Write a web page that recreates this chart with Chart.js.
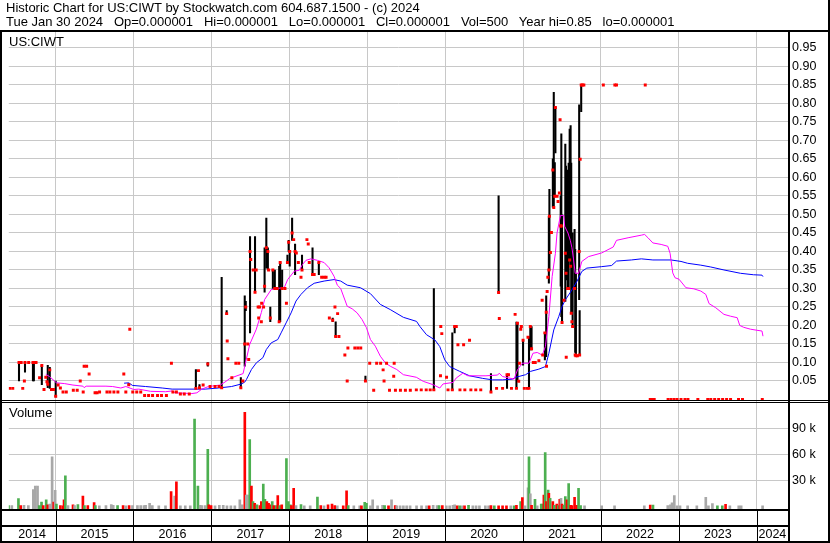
<!DOCTYPE html>
<html>
<head>
<meta charset="utf-8">
<script src="https://cdn.jsdelivr.net/npm/chart.js@4.4.1/dist/chart.umd.min.js"></script>
<style>
  body { margin: 0; background: #fff; }
  #wrap { position: relative; width: 830px; height: 543px; overflow: hidden; font-family: 'Liberation Sans', Arial, sans-serif; color: #000; }
  #chart { position: absolute; left: 0; top: 0; }
  #title { position: absolute; left: 6px; top: 1px; font-size: 13px; line-height: 14px; white-space: pre; }
  .panel-label { position: absolute; left: 9px; font-size: 13px; line-height: 14px; }
</style>
</head>
<body>
<div id="wrap">
  <canvas id="chart" width="830" height="543"></canvas>
  <div id="title">Historic Chart for US:CIWT by Stockwatch.com 604.687.1500 - (c) 2024
Tue Jan 30 2024   Op=0.000001   Hi=0.000001   Lo=0.000001   Cl=0.000001   Vol=500   Year hi=0.85   lo=0.000001</div>
  <div class="panel-label" style="top:35px">US:CIWT</div>
  <div class="panel-label" style="top:406px">Volume</div>
</div>
<script>
// daily prices (date as fractional year); null high/low = no range bar that day
const n = null;
const priceDates = [
  2014.413, 2014.451, 2014.531, 2014.559, 2014.579, 2014.600, 2014.608, 2014.655, 2014.710, 2014.722,
  2014.750, 2014.795, 2014.824, 2014.852, 2014.875, 2014.890, 2014.900, 2014.926, 2014.948, 2014.973,
  2015.002, 2015.033, 2015.062, 2015.096, 2015.138, 2015.228, 2015.278, 2015.317, 2015.355, 2015.367,
  2015.399, 2015.431, 2015.507, 2015.533, 2015.565, 2015.660, 2015.698, 2015.749, 2015.800, 2015.876,
  2015.902, 2015.940, 2015.953, 2015.991,
  2016.042, 2016.093, 2016.143, 2016.194, 2016.245, 2016.309, 2016.360, 2016.423, 2016.487, 2016.506,
  2016.551, 2016.602, 2016.652, 2016.716, 2016.801, 2016.834, 2016.847, 2016.894, 2016.954, 2016.983,
  2017.047, 2017.098, 2017.132, 2017.196, 2017.203, 2017.212, 2017.263, 2017.314, 2017.352, 2017.378,
  2017.403, 2017.428, 2017.441, 2017.467, 2017.479, 2017.496, 2017.505,
  2017.537, 2017.560, 2017.575, 2017.600, 2017.607, 2017.620, 2017.641, 2017.645, 2017.670, 2017.683,
  2017.705, 2017.725, 2017.734, 2017.756, 2017.789, 2017.814, 2017.844, 2017.870, 2017.883, 2017.908,
  2017.944, 2017.963, 2017.976, 2017.992,
  2018.005, 2018.036, 2018.056, 2018.074, 2018.090, 2018.116, 2018.150, 2018.163, 2018.226, 2018.243,
  2018.256, 2018.298, 2018.319, 2018.379, 2018.415, 2018.447, 2018.472, 2018.514, 2018.557, 2018.586,
  2018.595, 2018.620, 2018.637, 2018.713, 2018.743, 2018.752, 2018.841, 2018.879, 2018.917, 2018.977,
  2019.032, 2019.083, 2019.121, 2019.172, 2019.204, 2019.216, 2019.248, 2019.286, 2019.340, 2019.346,
  2019.362, 2019.426, 2019.490, 2019.553, 2019.630, 2019.693, 2019.757, 2019.808, 2019.855, 2019.940,
  2019.944, 2019.957,
  2020.018, 2020.037, 2020.092, 2020.122, 2020.143, 2020.164, 2020.190, 2020.237, 2020.253, 2020.313,
  2020.330, 2020.393, 2020.457, 2020.588, 2020.660, 2020.686, 2020.695, 2020.737, 2020.794, 2020.813,
  2020.851, 2020.898, 2020.915, 2020.928, 2020.944, 2020.953, 2020.970, 2020.978,
  2021.000, 2021.016, 2021.054, 2021.063, 2021.076, 2021.093, 2021.109, 2021.131, 2021.156, 2021.203,
  2021.245, 2021.252, 2021.280, 2021.297, 2021.301, 2021.309, 2021.318, 2021.331, 2021.338, 2021.351,
  2021.364,
  2021.382, 2021.394, 2021.407, 2021.415, 2021.436, 2021.449, 2021.466, 2021.475, 2021.483, 2021.491,
  2021.500, 2021.525, 2021.542, 2021.551, 2021.554, 2021.572, 2021.585, 2021.598, 2021.610, 2021.618,
  2021.627, 2021.636, 2021.661, 2021.669, 2021.678, 2021.697, 2021.720, 2021.726, 2021.733, 2021.746,
  2021.761, 2021.780,
  2022.030, 2022.178, 2022.199, 2022.568, 2022.632, 2022.658, 2022.683, 2022.861, 2022.899, 2022.938,
  2022.976, 2023.027, 2023.078, 2023.116, 2023.243, 2023.370, 2023.409, 2023.459, 2023.510, 2023.561,
  2023.612, 2023.663, 2023.765, 2023.816, 2024.070
];
const highs = [
  n, n, .10, n, n, n, .10, n, .10, .10,
  n, n, .092, n, n, n, .092, .087, n, n,
  .05, n, n, n, n, n, n, n, n, n,
  n, n, n, n, n, n, n, n, n, n,
  n, .043, n, n,
  n, n, n, n, n, n, n, n, n, n,
  n, n, n, n, .081, n, .04, n, .10, n,
  n, n, .33, .24, n, n, n, n, n, .059,
  n, .28, .265, n, n, .44, n,
  n, .44, n, n, n, n, n, n, n, .41,
  .49, .41, n, .25, .35, .35, n, .36, .37, .35,
  n, n, .39, .43,
  .40, .49, n, .42, n, n, n, .39, n, n,
  n, .41, n, .37, n, n, n, n, .22, n,
  .21, n, n, n, n, n, n, n, n, .063,
  n, n, n, n, n, n, n, n, n, n,
  n, n, n, n, n, n, n, n, .30, n,
  n, n,
  n, n, .18, .197, n, n, n, n, n, n,
  n, n, n, .07, n, .55, n, n, .067, n,
  n, n, .209, .206, n, n, n, n,
  .16, n, n, n, .17, .197, .197, n, n, n,
  n, n, .18, .28, n, n, n, .495, .568, n,
  n,
  .65, .83, .64, .789, n, n, n, n, .549, .718,
  .499, n, .69, .631, n, .62, .639, .731, .74, .639,
  n, .45, .46, .406, .34, n, .796, .24, n, .85,
  n, n,
  n, n, n, n, n, n, n, n, n, n,
  n, n, n, n, n, n, n, n, n, n,
  n, n, n, n, n
];
const lows = [
  n, n, .05, n, n, n, .074, n, .05, .05,
  n, n, .04, n, n, n, .032, .03, n, n,
  .007, n, n, n, n, n, n, n, n, n,
  n, n, n, n, n, n, n, n, n, n,
  n, .038, n, n,
  n, n, n, n, n, n, n, n, n, n,
  n, n, n, n, .03, n, .03, n, .09, n,
  n, n, .032, .23, n, n, n, n, n, .032,
  n, .09, .24, n, n, .18, n,
  n, .29, n, n, n, n, n, n, n, .29,
  .355, .35, n, .21, .30, .30, n, .21, .21, .30,
  n, n, .37, .40,
  .36, .43, n, .337, n, n, n, .35, n, n,
  n, .337, n, .337, n, n, n, n, .21, n,
  .17, n, n, n, n, n, n, n, n, .05,
  n, n, n, n, n, n, n, n, n, n,
  n, n, n, n, n, n, n, n, .026, n,
  n, n,
  n, n, .026, .18, n, n, n, n, n, n,
  n, n, n, .02, n, .289, n, n, .03, n,
  n, n, .03, .049, n, n, n, n,
  .093, n, n, n, .03, .134, .134, n, n, n,
  n, n, .107, .116, n, n, n, .314, .349, n,
  n,
  .52, .52, .55, .666, n, n, n, n, .306, .224,
  .206, n, .265, .323, n, .297, .297, .377, .36, .233,
  n, .197, .30, .127, .118, n, .27, .12, n, .778,
  n, n,
  n, n, n, n, n, n, n, n, n, n,
  n, n, n, n, n, n, n, n, n, n,
  n, n, n, n, n
];
const closes = [
  .03, .03, .10, .10, .03, .05, .10, .10, .10, .10,
  .10, .059, .092, .027, .06, .048, .041, .08, .027, .027,
  .009, .039, .031, .02, .02, .025, .025, .05, .02, .09,
  .09, .069, .018, .018, .02, .02, .02, .02, .02, .069,
  .02, .04, .19, .02,
  .02, .02, .011, .011, .011, .011, .011, .011, .098, .02,
  .02, .015, .015, .015, .03, .078, .032, .039, .096, .035,
  .035, .035, .032, .232, .158, .11, .059, .098, .098, .032,
  .05, .15, .25, .15, .108, .40, .378,
  .35, .29, .35, .25, .22, .25, .21, .26, .25, .306,
  .41, .40, .35, .22, .35, .30, .30, .21, .37, .30,
  .30, .26, .37, .425,
  .40, .45, .432, .40, .396, .37, .33, .35, .432, .42,
  .37, .338, .338, .37, .33, .33, .33, .22, .214, .25,
  .17, .232, .17, .12, .05, .139, .139, .139, .139, .05,
  .098, .025, .098, .098, .08, .05, .098, .025, .063, .098,
  .025, .025, .025, .025, .026, .026, .026, .026, .026, .064,
  .197, .178,
  .06, .026, .026, .197, .197, .148, .026, .148, .026, .16,
  .026, .026, .026, .02, .03, .289, .219, .03, .067, .067,
  .03, .23, .03, .206, .049, .098, .19, .197,
  .16, .03, .03, .168, .03, .197, .137, .10, .10, .105,
  .268, .12, .18, .236, .09, .292, .33, .35, .495, .397,
  .451,
  .62, .519, .549, .789, .549, .535, .558, .756, .469, .469,
  .208, .268, .395, .341, .114, .30, .30, .377, .36, .233,
  .21, .197, .30, .12, .118, .118, .40, .12, .649, .85,
  .85, .85,
  .85, .85, .85, .85, .000001, .000001, .000001, .000001, .000001, .000001,
  .000001, .000001, .000001, .000001, .000001, .000001, .000001, .000001, .000001, .000001,
  .000001, .000001, .000001, .000001, .000001
];

// short moving average (magenta)
const ma1Dates = [
  2014.875, 2014.922, 2014.986, 2015.011, 2015.113, 2015.224, 2015.351, 2015.367, 2015.393, 2015.647,
  2015.732, 2015.838, 2015.902, 2016.004, 2016.067, 2016.220, 2016.411, 2016.496, 2016.538, 2016.750,
  2016.814, 2016.877, 2016.962, 2017.111, 2017.174, 2017.238, 2017.407, 2017.428, 2017.492, 2017.577,
  2017.641, 2017.683, 2017.768, 2017.852, 2017.937, 2017.979, 2018.065, 2018.128, 2018.170, 2018.214,
  2018.277, 2018.361, 2018.447, 2018.510, 2018.574, 2018.616, 2018.659, 2018.743, 2018.807, 2018.870,
  2018.934, 2018.990, 2019.041, 2019.104, 2019.168, 2019.232, 2019.295, 2019.379, 2019.464, 2019.630,
  2019.719, 2019.846, 2019.931, 2019.973, 2020.100, 2020.142, 2020.227, 2020.291, 2020.524, 2020.673,
  2020.694, 2020.737, 2020.885, 2020.928, 2020.991, 2021.076, 2021.127, 2021.182, 2021.245, 2021.287,
  2021.331, 2021.373, 2021.415, 2021.436, 2021.479, 2021.522, 2021.534, 2021.576, 2021.606, 2021.627,
  2021.649, 2021.669, 2021.712, 2021.754, 2021.839, 2022.009, 2022.157, 2022.199, 2022.348, 2022.518,
  2022.560, 2022.603, 2022.666, 2022.772, 2022.857, 2022.887, 2022.921, 2022.950, 2023.001, 2023.090,
  2023.192, 2023.281, 2023.345, 2023.387, 2023.472, 2023.578, 2023.663, 2023.748, 2023.781, 2023.832,
  2023.917, 2024.002, 2024.066, 2024.079
];
const ma1Values = [
  .068, .062, .05, .045, .043, .039, .036, .032, .036, .036,
  .035, .031, .035, .027, .028, .022, .021, .023, .018, .016,
  .018, .028, .035, .039, .047, .057, .07, .09, .149, .19,
  .235, .27, .297, .30, .303, .324, .347, .349, .365, .376,
  .38, .376, .37, .356, .333, .309, .30, .252, .245, .234,
  .216, .194, .162, .144, .117, .099, .09, .081, .067, .06,
  .049, .04, .031, .042, .046, .058, .071, .064, .064, .066,
  .071, .062, .055, .08, .098, .098, .125, .127, .12, .143,
  .224, .332, .395, .45, .497, .497, .468, .45, .43, .41,
  .377, .341, .341, .373, .386, .396, .412, .43, .437, .444,
  .446, .437, .423, .419, .414, .395, .342, .329, .325, .302,
  .299, .293, .284, .259, .248, .23, .225, .221, .20, .195,
  .19, .187, .185, .171
];

// long moving average (blue)
const ma2Dates = [
  2015.880, 2015.940, 2015.987, 2016.156, 2016.369, 2016.496, 2016.920, 2017.089, 2017.259, 2017.387,
  2017.428, 2017.450, 2017.514, 2017.577, 2017.661, 2017.705, 2017.768, 2017.852, 2017.895, 2017.959,
  2018.023, 2018.086, 2018.150, 2018.234, 2018.319, 2018.447, 2018.574, 2018.659, 2018.743, 2018.913,
  2019.041, 2019.168, 2019.295, 2019.464, 2019.633, 2019.677, 2019.761, 2019.868, 2019.931, 2019.995,
  2020.058, 2020.186, 2020.313, 2020.482, 2020.609, 2020.737, 2020.864, 2020.906, 2021.033, 2021.097,
  2021.203, 2021.287, 2021.331, 2021.394, 2021.458, 2021.500, 2021.542, 2021.627, 2021.691, 2021.754,
  2021.818, 2022.009, 2022.136, 2022.199, 2022.390, 2022.518, 2022.666, 2022.899, 2023.027, 2023.112,
  2023.281, 2023.409, 2023.578, 2023.790, 2023.959, 2024.066, 2024.079
];
const ma2Values = [
  .044, .045, .038, .035, .031, .028, .028, .031, .035, .042,
  .047, .054, .081, .099, .113, .135, .153, .162, .18, .207,
  .234, .266, .284, .302, .314, .32, .324, .32, .309, .302,
  .286, .257, .243, .222, .211, .197, .175, .161, .143, .107,
  .089, .076, .064, .057, .053, .053, .055, .06, .067, .076,
  .082, .089, .125, .188, .224, .251, .269, .296, .319, .346,
  .355, .359, .362, .374, .377, .38, .377, .377, .373, .368,
  .363, .358, .35, .341, .337, .336, .332
];

// daily volume; volDir: 1 = up day, -1 = down day, 0 = unchanged
const volDates = [
  2014.397, 2014.439, 2014.524, 2014.553, 2014.595, 2014.651, 2014.715, 2014.740, 2014.769, 2014.791,
  2014.820, 2014.842, 2014.880, 2014.900, 2014.926, 2014.956, 2014.977, 2014.995, 2015.011, 2015.062,
  2015.096, 2015.109, 2015.126, 2015.160, 2015.224, 2015.244, 2015.287, 2015.351, 2015.371, 2015.414,
  2015.495, 2015.511, 2015.562, 2015.647, 2015.715, 2015.740, 2015.796, 2015.867, 2015.902, 2015.944,
  2015.987, 2016.051, 2016.093, 2016.135, 2016.156, 2016.207, 2016.242, 2016.325, 2016.411, 2016.483,
  2016.529, 2016.551, 2016.602, 2016.665, 2016.729, 2016.784, 2016.827, 2016.856, 2016.878, 2016.920,
  2016.954, 2016.967, 2016.996, 2017.047, 2017.102, 2017.152, 2017.200, 2017.250, 2017.301, 2017.365,
  2017.394, 2017.429, 2017.448, 2017.463, 2017.492, 2017.514, 2017.534, 2017.556, 2017.585, 2017.623,
  2017.641, 2017.666, 2017.687, 2017.712, 2017.734, 2017.759, 2017.781, 2017.801, 2017.832, 2017.852,
  2017.878, 2017.903, 2017.963, 2017.988, 2018.014, 2018.027, 2018.056, 2018.086, 2018.150, 2018.192,
  2018.268, 2018.361, 2018.404, 2018.446, 2018.497, 2018.548, 2018.583, 2018.616, 2018.692, 2018.735,
  2018.756, 2018.828, 2018.904, 2018.926, 2018.968, 2018.990, 2019.041, 2019.070, 2019.133, 2019.197,
  2019.223, 2019.273, 2019.312, 2019.359, 2019.379, 2019.422, 2019.464, 2019.506, 2019.550, 2019.633,
  2019.697, 2019.761, 2019.795, 2019.846, 2019.897, 2019.922, 2019.964, 2020.015, 2020.058, 2020.100,
  2020.122, 2020.155, 2020.186, 2020.219, 2020.249, 2020.300, 2020.355, 2020.397, 2020.440, 2020.516,
  2020.558, 2020.588, 2020.631, 2020.686, 2020.737, 2020.787, 2020.842, 2020.885, 2020.915, 2020.969,
  2020.991, 2021.025, 2021.064, 2021.076, 2021.093, 2021.109, 2021.153, 2021.182, 2021.233, 2021.254,
  2021.267, 2021.284, 2021.300, 2021.322, 2021.331, 2021.347, 2021.382, 2021.402, 2021.433, 2021.453,
  2021.471, 2021.487, 2021.500, 2021.525, 2021.542, 2021.564, 2021.585, 2021.611, 2021.627, 2021.661,
  2021.687, 2021.712, 2021.738, 2021.789, 2022.009, 2022.174, 2022.556, 2022.632, 2022.667, 2022.857,
  2022.891, 2022.912, 2022.941, 2022.976, 2023.014, 2023.112, 2023.230, 2023.345, 2023.379, 2023.430,
  2023.494, 2023.557, 2023.599, 2023.654, 2023.768, 2023.799, 2024.074
];
const volumes = [
  600, 400, 8500, 400, 800, 400, 19000, 23000, 23000, 400,
  4600, 500, 7000, 1200, 2300, 57000, 4600, 18000, 2300, 400,
  300, 7000, 35000, 400, 1200, 600, 1500, 11600, 600, 400,
  4000, 400, 300, 400, 1500, 800, 400, 400, 300, 400,
  400, 400, 400, 400, 800, 3100, 400, 300, 300, 16600,
  11600, 28000, 300, 300, 300, 100700, 23000, 800, 400, 400,
  65600, 1200, 400, 300, 800, 800, 300, 300, 300, 7000,
  1200, 108500, 12700, 12700, 77000, 23000, 5000, 3000, 1200, 600,
  5000, 25500, 7700, 5000, 3000, 1200, 5000, 600, 600, 12000,
  600, 1200, 55000, 5000, 1200, 600, 20500, 400, 1500, 300,
  300, 10400, 400, 300, 1200, 2300, 600, 300, 300, 17400,
  600, 300, 300, 300, 4200, 3000, 300, 7000, 300, 800,
  400, 300, 7000, 600, 300, 300, 300, 300, 300, 300,
  300, 300, 300, 800, 600, 600, 600, 300, 300, 800,
  1200, 300, 300, 300, 300, 800, 300, 300, 300, 300,
  300, 600, 300, 300, 300, 300, 300, 300, 800, 5000,
  9600, 300, 21000, 57000, 14000, 800, 7700, 300, 2300, 2300,
  12700, 61800, 5000, 18500, 14700, 8900, 5000, 800, 2300, 400,
  7700, 8900, 2300, 800, 10800, 7000, 26000, 800, 400, 10000,
  800, 20500, 400, 300, 300, 300, 300, 1000, 1000, 400,
  1200, 3500, 12000, 300, 300, 300, 300, 10000, 300, 2700,
  300, 300, 2000, 300, 300, 300, 300
];
const volDir = [
  1, 0, 1, -1, 0, 0, 0, 0, 0, 1,
  1, -1, 1, -1, 0, 0, -1, 0, 1, -1,
  -1, -1, 1, 0, -1, 0, 1, -1, 1, -1,
  -1, 1, 0, 0, 0, 0, 1, -1, 0, -1,
  0, 0, 0, 0, 0, 0, 0, 0, 0, -1,
  0, -1, 0, 0, 0, 1, 1, 0, 0, 0,
  1, -1, -1, 0, 0, 0, 0, 0, 0, 0,
  0, -1, 0, 0, 1, -1, 1, -1, 1, -1,
  -1, 1, 1, -1, -1, -1, 1, -1, 1, -1,
  1, -1, 1, 1, 1, -1, -1, 0, 1, 0,
  0, 1, -1, 0, -1, -1, -1, 0, -1, -1,
  1, 0, 0, -1, 1, 1, 0, 0, 0, 0,
  1, -1, 0, -1, 0, 0, 0, 0, 0, 0,
  0, 0, -1, 0, 0, 1, -1, 0, 0, 0,
  0, -1, 1, 0, -1, 1, 0, 0, 0, 0,
  0, -1, 1, -1, -1, -1, 0, 1, -1, 1,
  -1, 0, 0, 1, 0, -1, 1, 0, 1, 1,
  -1, 1, -1, 1, -1, 1, -1, 1, -1, 1,
  -1, 0, -1, 1, 1, -1, 1, -1, -1, -1,
  -1, 1, 1, 0, 0, 0, 0, -1, 1, 0,
  0, 0, 0, 0, 0, 0, 0, 0, 0, 0,
  1, 1, -1, 0, 0, 0, 0
];

const priceTicks = [0.05, 0.10, 0.15, 0.20, 0.25, 0.30, 0.35, 0.40, 0.45, 0.50,
                    0.55, 0.60, 0.65, 0.70, 0.75, 0.80, 0.85, 0.90, 0.95];
const volumeTicks = [30000, 60000, 90000];

const X_MIN = 2014.4, X_MAX = 2024.4;
const VOL_MIN = -3500;

const yearStarts = [];
for (let y = Math.ceil(X_MIN); y <= X_MAX; y++) yearStarts.push(y);
const yearCenters = [];
for (let y = Math.floor(X_MIN); y <= X_MAX; y++) {
  yearCenters.push((Math.max(y, X_MIN) + Math.min(y + 1, X_MAX)) / 2);
}

const rangeBars = [];
priceDates.forEach((d, i) => {
  if (highs[i] !== null) rangeBars.push({ x: d, y: [lows[i], highs[i]] });
});
const closePts = priceDates.map((d, i) => ({ x: d, y: closes[i] }));
const ma1Pts = ma1Dates.map((d, i) => ({ x: d, y: ma1Values[i] }));
const ma2Pts = ma2Dates.map((d, i) => ({ x: d, y: ma2Values[i] }));
const volPts = volDates.map((d, i) => ({ x: d, y: volumes[i] }));
const volColors = volDir.map(v => v > 0 ? '#4caf50' : (v < 0 ? '#ff0000' : '#a8a8a8'));

Chart.defaults.font.family = "'Liberation Sans', Arial, sans-serif";
Chart.defaults.color = '#000';

const labelFont = { size: 12.5 };

const framePlugin = {
  id: 'frame',
  afterDraw(chart) {
    const ctx = chart.ctx;
    const xs = chart.scales.x;
    ctx.save();
    ctx.fillStyle = '#000';
    ctx.fillRect(0, 30, 830, 2);      // under the title
    ctx.fillRect(0, 30, 2, 513);      // left edge
    ctx.fillRect(788, 30, 2, 513);    // price axis edge
    ctx.fillRect(828, 0, 2, 543);     // right edge
    ctx.fillRect(0, 400, 830, 1);     // panel divider (double line)
    ctx.fillRect(0, 402, 830, 1);
    ctx.fillRect(0, 509, 790, 2);     // date axis rows
    ctx.fillRect(0, 525, 790, 2);
    ctx.fillRect(0, 541, 830, 2);
    yearStarts.forEach(y => {
      const px = Math.round(xs.getPixelForValue(y));
      ctx.fillRect(px, 509, 1, 34);
    });
    ctx.restore();
  }
};

new Chart(document.getElementById('chart'), {
  type: 'scatter',
  data: {
    datasets: [
      { type: 'scatter', data: closePts, yAxisID: 'y', pointStyle: 'rect', pointRadius: 2.1,
        pointBackgroundColor: '#ff0000', pointBorderWidth: 0, order: 0 },
      { type: 'line', data: ma1Pts, yAxisID: 'y', borderColor: '#ff00ff', borderWidth: 1,
        pointRadius: 0, tension: 0, order: 1 },
      { type: 'line', data: ma2Pts, yAxisID: 'y', borderColor: '#0000ff', borderWidth: 1,
        pointRadius: 0, tension: 0, order: 2 },
      { type: 'bar', data: rangeBars, yAxisID: 'y', backgroundColor: '#000',
        barThickness: 1.4, grouped: false, order: 3 },
      { type: 'bar', data: volPts, yAxisID: 'yv', backgroundColor: volColors,
        barThickness: 2, grouped: false, base: VOL_MIN, order: 4 }
    ]
  },
  options: {
    responsive: false,
    animation: false,
    devicePixelRatio: 1,
    events: [],
    layout: { padding: { top: 32, left: 2, right: 0, bottom: 0 } },
    plugins: { legend: { display: false }, tooltip: { enabled: false } },
    scales: {
      x: {
        type: 'linear', position: 'bottom', min: X_MIN, max: X_MAX, offset: false,
        grid: { color: '#c8c8c8', drawTicks: false, offset: false },
        border: { display: false },
        ticks: { display: false },
        afterBuildTicks: s => { s.ticks = yearStarts.map(v => ({ value: v })); }
      },
      x2: {
        type: 'linear', position: 'bottom', min: X_MIN, max: X_MAX, offset: false,
        grid: { display: false, drawTicks: false },
        border: { display: false },
        ticks: { font: labelFont, padding: 18, maxRotation: 0, autoSkip: false,
                 callback: v => String(Math.floor(v)) },
        afterBuildTicks: s => { s.ticks = yearCenters.map(v => ({ value: v })); },
        afterFit: s => { s.height = 34; }
      },
      y: {
        type: 'linear', position: 'right', stack: 'panels', stackWeight: 370,
        min: -0.0068, max: 0.993,
        grid: { color: '#c8c8c8', drawTicks: false },
        border: { display: false },
        ticks: { font: labelFont, padding: 4, autoSkip: false, callback: v => v.toFixed(2) },
        afterBuildTicks: s => { s.ticks = priceTicks.map(v => ({ value: v })); },
        afterFit: s => { s.width = 42; }
      },
      yv: {
        type: 'linear', position: 'right', stack: 'panels', stackWeight: 107,
        min: VOL_MIN, max: 120400,
        grid: { color: '#c8c8c8', drawTicks: false },
        border: { display: false },
        ticks: { font: labelFont, padding: 4, autoSkip: false, callback: v => (v / 1000) + ' k' },
        afterBuildTicks: s => { s.ticks = volumeTicks.map(v => ({ value: v })); },
        afterFit: s => { s.width = 42; }
      }
    }
  },
  plugins: [framePlugin]
});
</script>
</body>
</html>
